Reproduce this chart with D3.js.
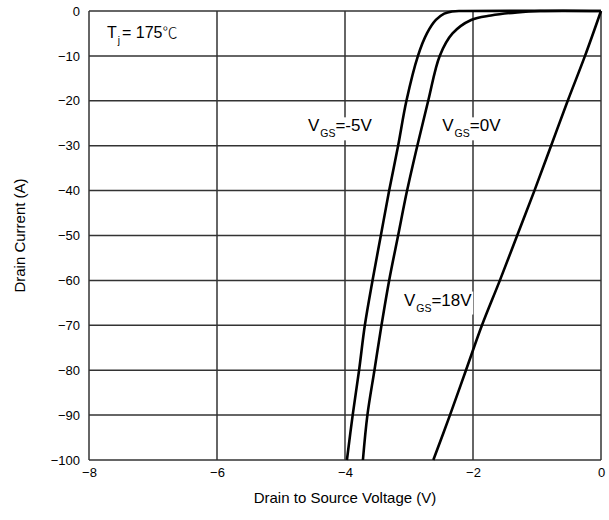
<!DOCTYPE html>
<html>
<head>
<meta charset="utf-8">
<script src="https://cdn.jsdelivr.net/npm/d3@7"></script>
<style>
  body { margin: 0; background: #fff; }
  svg { font-family: "Liberation Sans", Arial, sans-serif; }
</style>
</head>
<body>
<svg id="chart"></svg>
<script>
// tick values
const xTicks = [-8, -6, -4, -2, 0];
const yTicks = [0, -10, -20, -30, -40, -50, -60, -70, -80, -90, -100];

// curves: [Vds, Id]
const vgsMinus5 = [[-3.97, -100], [-3.88, -90], [-3.78, -80], [-3.69, -70], [-3.57, -60], [-3.44, -50],
    [-3.31, -40], [-3.17, -30], [-3.04, -20], [-2.86, -10], [-2.72, -5], [-2.58, -2], [-2.45, -0.6],
    [-2.33, -0.1], [-2.15, 0], [0, 0]];
const vgs0 = [[-3.72, -100], [-3.65, -90], [-3.54, -80], [-3.43, -70], [-3.31, -60], [-3.17, -50],
    [-3.03, -40], [-2.87, -30], [-2.70, -20], [-2.52, -10], [-2.32, -5], [-2.03, -2], [-1.72, -1],
    [-1.31, -0.3], [-0.95, 0], [0, 0]];
const vgs18 = [[-2.62, -100], [-2.36, -90], [-2.11, -80], [-1.86, -70], [-1.58, -60], [-1.31, -50],
    [-1.04, -40], [-0.78, -30], [-0.52, -20], [-0.25, -10], [0, 0]];

// curve labels: [main, subscript, rest, x(V), y(A)]
const labels = [
    ["V", "GS", "=-5V", -4.58, -26.8],
    ["V", "GS", "=0V", -2.48, -26.8],
    ["V", "GS", "=18V", -3.08, -65.6]
];

const width = 609, height = 520;
const mLeft = 89, mRight = 601, mTop = 11, mBottom = 460;

const svg = d3.select("#chart").attr("width", width).attr("height", height);

const x = d3.scaleLinear().domain([-8, 0]).range([mLeft, mRight]);
const y = d3.scaleLinear().domain([0, -100]).range([mTop, mBottom]);

svg.append("clipPath").attr("id", "plot").append("rect")
    .attr("x", mLeft).attr("y", mTop - 2).attr("width", mRight - mLeft + 2).attr("height", mBottom - mTop + 4);

// grid
svg.append("g").selectAll("line").data(xTicks).enter().append("line")
    .attr("x1", d => x(d)).attr("x2", d => x(d))
    .attr("y1", mTop).attr("y2", mBottom)
    .attr("stroke", "#333").attr("stroke-width", 1.5);
svg.append("g").selectAll("line").data(yTicks).enter().append("line")
    .attr("x1", mLeft).attr("x2", mRight)
    .attr("y1", d => y(d)).attr("y2", d => y(d))
    .attr("stroke", "#333").attr("stroke-width", 1.5);

// axes labels
let axX = svg.append("g").attr("transform", `translate(0, ${mBottom})`)
    .call(d3.axisBottom(x).tickValues(xTicks).tickSize(0).tickPadding(8).tickFormat(d3.format("d")));
axX.select(".domain").remove();
axX.selectAll("text").attr("font-size", 13).attr("fill", "#000").attr("font-family", "Liberation Sans, Arial, sans-serif");

let axY = svg.append("g").attr("transform", `translate(${mLeft}, 0)`)
    .call(d3.axisLeft(y).tickValues(yTicks).tickSize(0).tickPadding(9).tickFormat(d3.format("d")));
axY.select(".domain").remove();
axY.selectAll("text").attr("font-size", 13).attr("fill", "#000").attr("font-family", "Liberation Sans, Arial, sans-serif");

svg.append("text").attr("x", (mLeft + mRight) / 2).attr("y", 503)
    .attr("text-anchor", "middle").attr("font-size", 15).text("Drain to Source Voltage (V)");
svg.append("text").attr("transform", `translate(25, ${(mTop + mBottom) / 2}) rotate(-90)`)
    .attr("text-anchor", "middle").attr("font-size", 15).text("Drain Current (A)");

// Tj label
let tj = svg.append("text").attr("x", 107).attr("y", 38).attr("font-size", 16);
tj.append("tspan").text("T");
tj.append("tspan").attr("font-size", 10).attr("dy", 6).attr("dx", 1).text("j");
tj.append("tspan").attr("dy", -6).attr("dx", 2).text("= 175");
tj.append("tspan").attr("font-family", "Noto Sans CJK SC").attr("font-size", 15).attr("font-weight", 300).text("℃");

// curve labels with white background
labels.forEach(l => {
    let g = svg.append("g");
    let bg = g.append("rect").attr("fill", "#fff");
    let t = g.append("text").attr("x", x(l[3])).attr("y", y(l[4])).attr("font-size", 17);
    t.append("tspan").text(l[0]);
    t.append("tspan").attr("font-size", 10.5).attr("dy", 6).attr("dx", 1).text(l[1]);
    t.append("tspan").attr("dy", -6).text(l[2]);
    let b = t.node().getBBox();
    bg.attr("x", b.x - 1).attr("y", b.y + 1).attr("width", b.width + 2).attr("height", b.height);
});

// curves
const line = d3.line().x(d => x(d[0])).y(d => y(d[1])).curve(d3.curveCatmullRom.alpha(0.5));
[vgsMinus5, vgs0, vgs18].forEach(s => {
    svg.append("path").datum(s).attr("d", line).attr("clip-path", "url(#plot)")
        .attr("fill", "none").attr("stroke", "#000").attr("stroke-width", 2.6);
});
</script>
</body>
</html>
